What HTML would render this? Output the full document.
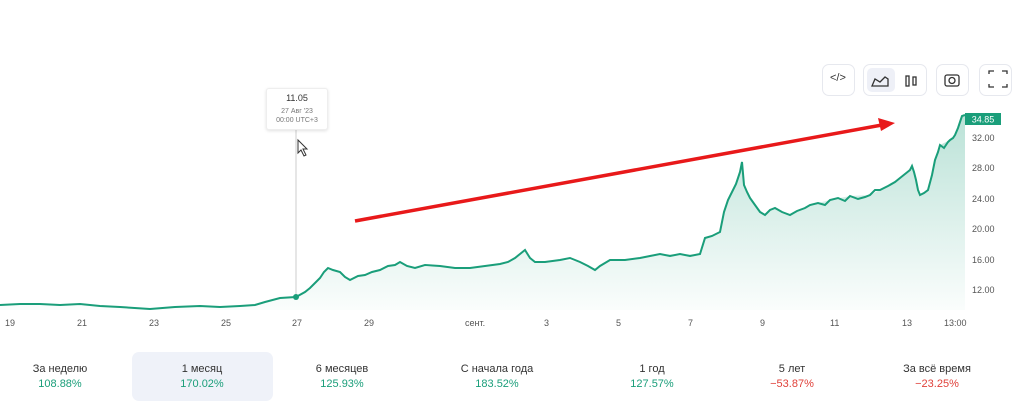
<!DOCTYPE html>
<html><head><meta charset="utf-8"><style>
body{margin:0;width:1024px;height:414px;background:#fff;font-family:"Liberation Sans","DejaVu Sans",sans-serif;overflow:hidden;position:relative}
.btn{position:absolute;top:64px;height:32px;border:1px solid #e6e8ee;border-radius:7px;background:#fff;box-sizing:border-box}
.ax{position:absolute;font-size:9px;color:#555}
.yl{position:absolute;left:972px;font-size:9px;color:#555}
.cell{position:absolute;top:352px;width:140px;height:49px;text-align:center;font-size:11px;color:#333}
.cell b{display:block;font-weight:normal;margin-top:3px}
</style></head><body>
<div class="btn" style="left:822px;width:33px"></div>
<div class="btn" style="left:863px;width:64px"><div style="position:absolute;left:3px;top:3px;width:28px;height:24px;background:#eef0f7;border-radius:5px"></div></div>
<div class="btn" style="left:936px;width:33px"></div>
<div class="btn" style="left:979px;width:33px"></div>
<div style="position:absolute;left:830px;top:72px;font-size:11px;color:#333">&lt;/&gt;</div>
<svg style="position:absolute;left:0;top:0" width="1024" height="414">
<defs><linearGradient id="g" x1="0" y1="0" x2="0" y2="1"><stop offset="0" stop-color="#1a9e7a" stop-opacity="0.3"/><stop offset="1" stop-color="#1a9e7a" stop-opacity="0.02"/></linearGradient></defs>
<g fill="none" stroke="#333" stroke-width="1.3">
<path d="M872 86 L875 79 L880 82 L885 77 L888 79 L888 86 Z"/>
<rect x="906" y="76" width="3" height="10"/><rect x="913" y="77" width="3" height="8"/>
<rect x="945" y="75" width="14" height="11" rx="2"/><circle cx="952" cy="80.5" r="3"/>
<path d="M989 74v-3h5M1002 71h5v3M1007 84v3h-5M994 87h-5v-3"/>
</g>
<path id="p" d="M0,305 L20,304 40,304 60,305 80,304 100,306 120,307 150,309 175,307 200,306 220,307 240,306 255,305 265,302 280,298 296,297 305,292 310,288 316,282 320,278 324,272 328,268 333,270 340,272 345,277 350,280 358,276 365,275 372,272 380,270 388,266 395,265 400,262 407,266 415,268 425,265 440,266 455,268 470,268 485,266 500,264 508,262 515,258 520,254 525,250 530,258 535,262 545,262 560,260 570,258 580,262 588,266 595,270 600,266 610,260 625,260 640,258 650,256 660,254 670,256 680,254 690,256 700,254 705,238 712,236 720,232 724,212 728,200 733,190 736,184 738,178 740,172 742,162 744,185 747,192 750,198 755,205 760,212 765,215 770,210 775,208 782,212 790,215 797,211 805,208 810,205 818,203 825,205 830,200 838,198 845,201 850,196 858,199 865,197 870,195 875,190 880,190 888,186 895,182 900,178 905,174 910,170 912,166 914,172 916,180 918,190 920,195 924,193 928,190 932,175 935,160 938,152 940,145 944,148 948,142 950,140 953,138 955,135 958,128 960,122 962,116 965,115"
 fill="none" stroke="#1a9e7a" stroke-width="2"/>
<path d="M0,305 L40,304 100,306 150,309 200,306 240,306 265,302 280,298 296,297 310,288 320,278 328,268 340,272 350,280 365,275 380,270 400,262 415,268 440,266 470,268 500,264 515,258 525,250 535,262 560,260 580,262 595,270 610,260 640,258 660,254 680,254 700,254 705,238 720,232 728,200 733,190 738,178 742,162 745,190 755,205 765,215 775,208 790,215 810,205 830,200 850,196 870,195 880,190 895,182 905,174 912,166 916,180 920,195 928,190 935,160 940,145 950,140 955,135 962,116 965,115 L965,310 L0,310 Z" fill="url(#g)"/>
<line x1="296" y1="128" x2="296" y2="297" stroke="#ccc" stroke-width="1"/>
<circle cx="296" cy="297" r="3" fill="#1a9e7a"/>
<line x1="355" y1="221" x2="882" y2="125" stroke="#e8191a" stroke-width="3.5"/>
<polygon points="895,123 878,118 881,131" fill="#e8191a"/>
<rect x="965" y="113" width="36" height="12" fill="#1a9e7a"/>
<text x="983" y="122.5" font-size="9" fill="#fff" text-anchor="middle" font-family="Liberation Sans">34.85</text>
<path d="M298 140 L298 153 L301 150 L304 156 L306 155 L303 149 L307 149 Z" fill="#fff" stroke="#333" stroke-width="1"/>
</svg>
<div style="position:absolute;left:266px;top:88px;width:60px;height:40px;background:#fff;border:1px solid #eee;border-radius:3px;box-shadow:0 1px 3px rgba(0,0,0,.12);text-align:center;font-size:7px;color:#777;line-height:9px">
<div style="font-size:9px;color:#333;margin:5px 0 4px">11.05</div>27 Авг '23<br>00:00 UTC+3</div>
<div class="yl" style="top:133px">32.00</div><div class="yl" style="top:163px">28.00</div><div class="yl" style="top:194px">24.00</div><div class="yl" style="top:224px">20.00</div><div class="yl" style="top:255px">16.00</div><div class="yl" style="top:285px">12.00</div>
<div class="ax" style="left:5px;top:318px">19</div><div class="ax" style="left:77px;top:318px">21</div><div class="ax" style="left:149px;top:318px">23</div><div class="ax" style="left:221px;top:318px">25</div><div class="ax" style="left:292px;top:318px">27</div><div class="ax" style="left:364px;top:318px">29</div><div class="ax" style="left:465px;top:318px">сент.</div><div class="ax" style="left:544px;top:318px">3</div><div class="ax" style="left:616px;top:318px">5</div><div class="ax" style="left:688px;top:318px">7</div><div class="ax" style="left:760px;top:318px">9</div><div class="ax" style="left:830px;top:318px">11</div><div class="ax" style="left:902px;top:318px">13</div><div class="ax" style="left:944px;top:318px">13:00</div>
<div style="position:absolute;left:132px;top:352px;width:141px;height:49px;background:#eff2f9;border-radius:7px"></div>
<div class="cell" style="left:-10px"><div style="margin-top:11px">За неделю</div><b style="color:#1a9e7a">108.88%</b></div>
<div class="cell" style="left:132px"><div style="margin-top:11px">1 месяц</div><b style="color:#1a9e7a">170.02%</b></div>
<div class="cell" style="left:272px"><div style="margin-top:11px">6 месяцев</div><b style="color:#1a9e7a">125.93%</b></div>
<div class="cell" style="left:427px"><div style="margin-top:11px">С начала года</div><b style="color:#1a9e7a">183.52%</b></div>
<div class="cell" style="left:582px"><div style="margin-top:11px">1 год</div><b style="color:#1a9e7a">127.57%</b></div>
<div class="cell" style="left:722px"><div style="margin-top:11px">5 лет</div><b style="color:#e0413a">−53.87%</b></div>
<div class="cell" style="left:867px"><div style="margin-top:11px">За всё время</div><b style="color:#e0413a">−23.25%</b></div>
</body></html>
